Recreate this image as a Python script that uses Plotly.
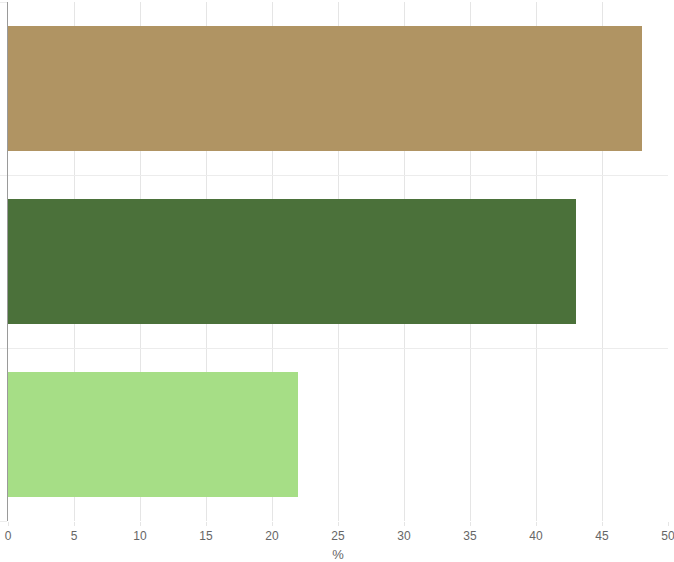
import plotly.graph_objects as go

categories = ["A", "B", "C"]
values = [48, 43, 22]
colors = ["#B09463", "#4B713A", "#A6DE86"]
x_ticks = [0, 5, 10, 15, 20, 25, 30, 35, 40, 45, 50]

ypos = list(range(len(categories)))

fig = go.Figure(go.Bar(
    x=values, y=ypos, orientation="h",
    marker=dict(color=colors, line=dict(width=0)),
    width=0.72, hoverinfo="x",
))

fig.update_layout(
    width=674, height=562,
    margin=dict(l=8, r=6, t=2, b=41),
    paper_bgcolor="white", plot_bgcolor="white",
    font=dict(family="Liberation Sans, Arial, sans-serif", size=12, color="#666666"),
    showlegend=False,
    bargap=0,
)
fig.update_xaxes(
    range=[0, 50], tickvals=x_ticks, ticktext=[str(t) for t in x_ticks],
    automargin=False, ticklabeloverflow="allow",
    tickfont=dict(size=12, color="#666666"),
    showgrid=True, gridcolor="#e5e5e5", gridwidth=1,
    zeroline=False, showline=False,
    ticks="outside", ticklen=4, tickcolor="#e5e5e5",
    title=dict(text="%", standoff=8, font=dict(size=13, color="#666666")),
)
fig.update_yaxes(
    range=[2.5, -0.5], tickvals=[-0.5, 0.5, 1.5, 2.5],
    automargin=False,
    showticklabels=False,
    showgrid=True, gridcolor="#ececec", gridwidth=1,
    zeroline=False,
    showline=True, linecolor="#9a9a9a", linewidth=1,
    ticks="outside", ticklen=7, tickcolor="#ececec",
)

fig.write_html(
    "out.html",
    config={"displayModeBar": False},
    post_script="document.body.style.margin='0';document.body.style.overflow='hidden';",
)
